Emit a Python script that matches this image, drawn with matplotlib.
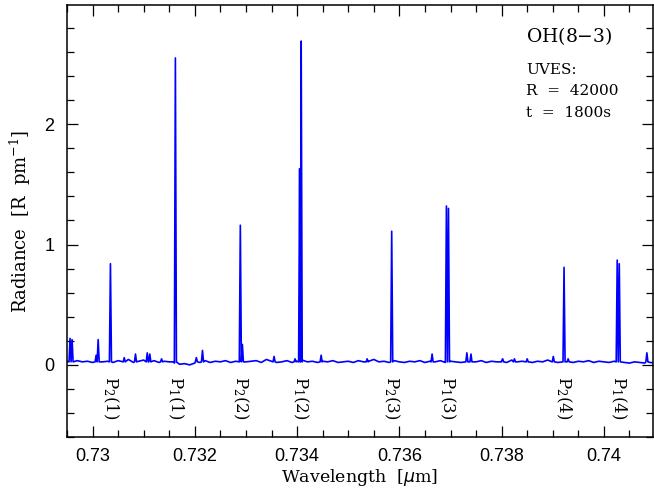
import numpy as np
import matplotlib
matplotlib.use('Agg')
import matplotlib.pyplot as plt
from matplotlib.ticker import MultipleLocator

# baseline (sky continuum + noise), sampled every 0.0001 um from 0.7295 um
base_start = 0.7295
base_step = 0.0001
baseline = [
    0.03, 0.02, 0.035, 0.025, 0.03, 0.02, 0.04, 0.025, 0.03, 0.02,
    0.035, 0.025, 0.045, 0.02, 0.03, 0.04, 0.025, 0.035, 0.02, 0.03,
    0.025, 0.015, 0.005, 0.01, 0.0, 0.015, 0.02, 0.035, 0.02, 0.03,
    0.025, 0.035, 0.02, 0.03, 0.04, 0.025, 0.03, 0.035, 0.02, 0.045,
    0.03, 0.02, 0.025, 0.035, 0.02, 0.03, 0.04, 0.025, 0.03, 0.02,
    0.03, 0.025, 0.035, 0.02, 0.025, 0.03, 0.02, 0.035, 0.025, 0.03,
    0.045, 0.025, 0.03, 0.02, 0.035, 0.025, 0.02, 0.03, 0.025, 0.035,
    0.02, 0.03, 0.025, 0.035, 0.02, 0.03, 0.025, 0.02, 0.035, 0.03,
    0.025, 0.035, 0.02, 0.03, 0.025, 0.035, 0.02, 0.04, 0.025, 0.03,
    0.035, 0.02, 0.03, 0.025, 0.04, 0.03, 0.02, 0.025, 0.035, 0.02,
    0.03, 0.025, 0.035, 0.02, 0.03, 0.025, 0.02, 0.03, 0.025, 0.02,
    0.015, 0.025, 0.02, 0.015, 0.02, 0.015,
]

# emission lines: centre wavelength [um] and peak radiance [R/pm]
line_wl = [0.72956, 0.72960, 0.73007, 0.73011, 0.73035, 0.73062, 0.73084,
           0.73107, 0.73112, 0.73135, 0.73162, 0.73203, 0.73215, 0.73289,
           0.73293, 0.73355, 0.73396, 0.73405, 0.73408, 0.73447, 0.73537,
           0.73585, 0.73664, 0.73692, 0.73696, 0.73732, 0.73740, 0.73802,
           0.73825, 0.73850, 0.73901, 0.73922, 0.73930, 0.74026, 0.74030,
           0.74084]
line_peak = [0.22, 0.21, 0.08, 0.21, 0.84, 0.06, 0.09,
             0.10, 0.09, 0.05, 2.55, 0.06, 0.12, 1.16,
             0.17, 0.07, 0.05, 1.63, 2.69, 0.08, 0.05,
             1.11, 0.09, 1.32, 1.30, 0.10, 0.09, 0.05,
             0.05, 0.05, 0.07, 0.81, 0.05, 0.87, 0.84,
             0.10]

# line identifications
label_wl = [0.73035, 0.73162, 0.73289, 0.73407, 0.73585, 0.73694, 0.73922, 0.74028]
label_txt = ['P$_2$(1)', 'P$_1$(1)', 'P$_2$(2)', 'P$_1$(2)',
             'P$_2$(3)', 'P$_1$(3)', 'P$_2$(4)', 'P$_1$(4)']

# assemble spectrum
hw = 0.00002
grid = base_start + base_step * np.arange(len(baseline))
bvals = np.array(baseline)
lw_arr = np.array(line_wl)
keep = np.array([np.all(np.abs(g - lw_arr) > hw) for g in grid])
wl = list(grid[keep])
rad = list(bvals[keep])
for c, p in zip(line_wl, line_peak):
    wl += [c - hw, c, c + hw]
    rad += [0.025, p, 0.025]
order = np.argsort(wl)
wl = np.array(wl)[order]
rad = np.array(rad)[order]

plt.rcParams['mathtext.default'] = 'regular'
serif = 'DejaVu Serif'

fig = plt.figure(figsize=(6.54, 4.9), dpi=100)
ax = fig.add_axes([0.1024, 0.108, 0.8961, 0.8818])

ax.plot(wl, rad, color='#0000ff', linewidth=1.2)

ax.set_xlim(0.7295, 0.74096)
ax.set_ylim(-0.6, 2.99)

ax.xaxis.set_major_locator(MultipleLocator(0.002))
ax.xaxis.set_minor_locator(MultipleLocator(0.0005))
ax.yaxis.set_major_locator(MultipleLocator(1))
ax.yaxis.set_minor_locator(MultipleLocator(0.2))
ax.xaxis.set_major_formatter(plt.FuncFormatter(lambda v, p: ('%.3f' % v).rstrip('0')))

ax.tick_params(which='both', direction='in', top=True, right=True, width=0.9)
ax.tick_params(which='major', length=8)
ax.tick_params(which='minor', length=5)
ax.tick_params(axis='x', which='major', pad=8, labelsize=13)
ax.tick_params(axis='y', which='major', pad=9, labelsize=13)
for lab in ax.get_xticklabels() + ax.get_yticklabels():
    lab.set_family('Liberation Sans')
for s in ax.spines.values():
    s.set_linewidth(1.1)

ax.set_xlabel('Wavelength  [$\\mathit{\\mu}$m]', family=serif, fontsize=12.5, labelpad=1)
ax.set_ylabel('Radiance  [R  pm$^{-1}$]', family=serif, fontsize=13, labelpad=8)

for x, t in zip(label_wl, label_txt):
    ax.text(x, -0.27, t, rotation=-90, ha='center', va='center',
            family=serif, fontsize=12)

ax.text(0.73848, 2.68, 'OH(8$-$3)', family=serif, fontsize=13.5, va='baseline')
ax.text(0.73848, 2.42, 'UVES:', family=serif, fontsize=11, va='baseline')
ax.text(0.73848, 2.24, 'R  =  42000', family=serif, fontsize=11, va='baseline')
ax.text(0.73848, 2.06, 't  =  1800s', family=serif, fontsize=11, va='baseline')

fig.savefig('out.png', dpi=100)
